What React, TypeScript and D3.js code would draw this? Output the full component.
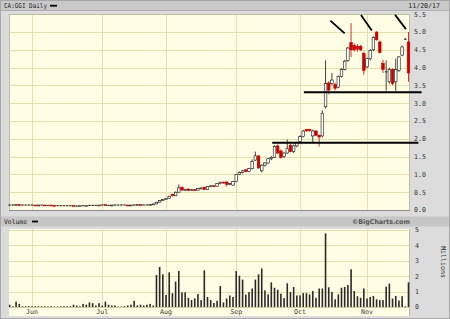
import React from "react";
import * as d3 from "d3";

// ---- data (CA:GGI daily, May 23 – Nov 20 2017, trading-day index) ----
const opens = [
  0.14, 0.14, 0.14, 0.15, 0.14, 0.14, 0.14, 0.14, 0.14, 0.13, 0.14, 0.14, 0.13, 0.14, 0.13, 0.12, 0.12, 0.12, 0.12, 0.12,
  0.13, 0.11, 0.11, 0.12, 0.12, 0.13, 0.13, 0.13, 0.13, 0.14, 0.15, 0.13, 0.13, 0.14, 0.14, 0.14, 0.14, 0.14, 0.13, 0.14,
  0.14, 0.15, 0.14, 0.14, 0.14, 0.15, 0.17, 0.22, 0.27, 0.29, 0.33, 0.44, 0.40, 0.50, 0.64, 0.56, 0.59, 0.55, 0.57, 0.56,
  0.60, 0.64, 0.58, 0.66, 0.68, 0.67, 0.74, 0.78, 0.79, 0.72, 0.70, 0.80, 1.00, 1.05, 1.13, 1.08, 1.16, 1.40, 1.52, 1.10,
  1.26, 1.32, 1.44, 1.48, 1.80, 1.66, 1.50, 1.60, 1.82, 1.64, 1.80, 1.92, 2.06, 2.26, 2.26, 2.08, 2.22, 2.10, 2.08, 2.90,
  3.57, 3.55, 3.52, 3.45, 3.75, 3.95, 4.20, 4.70, 4.62, 4.60, 4.60, 4.40, 4.02, 4.25, 4.50, 5.00, 4.72, 4.12, 3.88, 3.60,
  3.95, 3.60, 3.92, 4.35, 4.80, 4.72,
];
const highs = [
  0.15, 0.15, 0.15, 0.15, 0.15, 0.14, 0.15, 0.15, 0.14, 0.14, 0.14, 0.14, 0.14, 0.14, 0.13, 0.13, 0.13, 0.12, 0.13, 0.12,
  0.13, 0.12, 0.12, 0.13, 0.13, 0.14, 0.14, 0.14, 0.14, 0.15, 0.15, 0.14, 0.14, 0.15, 0.14, 0.15, 0.15, 0.14, 0.14, 0.15,
  0.15, 0.15, 0.15, 0.15, 0.16, 0.18, 0.23, 0.28, 0.31, 0.34, 0.40, 0.46, 0.52, 0.72, 0.66, 0.60, 0.60, 0.58, 0.59, 0.61,
  0.63, 0.65, 0.67, 0.69, 0.70, 0.75, 0.80, 0.80, 0.80, 0.76, 0.82, 1.02, 1.08, 1.12, 1.15, 1.18, 1.42, 1.64, 1.54, 1.28,
  1.34, 1.46, 1.52, 1.82, 1.84, 1.70, 1.62, 1.98, 1.86, 1.84, 1.92, 2.10, 2.25, 2.28, 2.28, 2.26, 2.24, 2.12, 2.80, 4.20,
  3.62, 3.85, 3.58, 3.78, 3.98, 4.22, 4.58, 5.25, 4.68, 4.66, 4.64, 4.45, 4.28, 4.52, 4.88, 5.02, 4.76, 4.22, 4.20, 4.00,
  3.98, 4.25, 4.32, 4.62, 4.82, 5.00,
];
const lows = [
  0.13, 0.13, 0.14, 0.13, 0.13, 0.13, 0.13, 0.13, 0.13, 0.13, 0.13, 0.13, 0.12, 0.12, 0.12, 0.12, 0.11, 0.11, 0.11, 0.11,
  0.10, 0.10, 0.11, 0.11, 0.12, 0.12, 0.12, 0.13, 0.13, 0.13, 0.12, 0.12, 0.13, 0.13, 0.13, 0.13, 0.14, 0.13, 0.13, 0.13,
  0.14, 0.14, 0.13, 0.14, 0.14, 0.15, 0.17, 0.21, 0.25, 0.28, 0.32, 0.38, 0.39, 0.49, 0.54, 0.54, 0.53, 0.54, 0.55, 0.55,
  0.58, 0.57, 0.57, 0.64, 0.65, 0.66, 0.72, 0.75, 0.66, 0.70, 0.68, 0.78, 0.98, 1.02, 1.06, 1.06, 1.14, 1.38, 1.16, 1.06,
  1.22, 1.30, 1.40, 1.46, 1.58, 1.44, 1.46, 1.58, 1.62, 1.60, 1.76, 1.88, 2.04, 2.20, 2.20, 1.90, 2.08, 1.78, 2.04, 2.85,
  3.25, 3.50, 3.36, 3.42, 3.72, 3.92, 4.16, 4.30, 4.45, 4.45, 4.46, 3.80, 3.98, 4.20, 4.46, 4.76, 4.40, 3.85, 3.35, 3.55,
  3.50, 3.35, 3.88, 4.32, 4.78, 3.60,
];
const closes = [
  0.14, 0.14, 0.15, 0.14, 0.14, 0.14, 0.14, 0.14, 0.13, 0.14, 0.14, 0.13, 0.13, 0.13, 0.12, 0.12, 0.12, 0.12, 0.12, 0.12,
  0.11, 0.11, 0.12, 0.12, 0.13, 0.13, 0.13, 0.13, 0.14, 0.14, 0.13, 0.13, 0.14, 0.14, 0.14, 0.14, 0.14, 0.13, 0.14, 0.14,
  0.15, 0.14, 0.14, 0.14, 0.15, 0.17, 0.22, 0.27, 0.29, 0.33, 0.38, 0.40, 0.50, 0.62, 0.56, 0.58, 0.55, 0.57, 0.56, 0.60,
  0.62, 0.58, 0.66, 0.68, 0.67, 0.74, 0.78, 0.77, 0.72, 0.74, 0.80, 1.00, 1.05, 1.10, 1.08, 1.16, 1.36, 1.52, 1.18, 1.26,
  1.32, 1.44, 1.48, 1.78, 1.60, 1.48, 1.60, 1.72, 1.64, 1.80, 1.90, 2.06, 2.22, 2.22, 2.23, 2.22, 2.10, 2.05, 2.72, 3.55,
  3.37, 3.65, 3.42, 3.75, 3.95, 4.18, 4.55, 4.50, 4.50, 4.52, 4.50, 3.92, 4.25, 4.48, 4.85, 4.78, 4.42, 3.95, 3.88, 3.95,
  3.55, 3.95, 4.30, 4.58, 4.80, 3.85,
];
// volume, millions of shares
const volumes = [
  0.15, 0.05, 0.35, 0.2, 0.05, 0.05, 0.05, 0.05, 0.05, 0.05, 0.05, 0.05, 0.03, 0.05, 0.03, 0.03, 0.05, 0.05, 0.05, 0.05,
  0.15, 0.1, 0.05, 0.2, 0.15, 0.3, 0.25, 0.1, 0.25, 0.1, 0.35, 0.15, 0.1, 0.1, 0.03, 0.03, 0.05, 0.1, 0.15, 0.4,
  0.1, 0.15, 0.1, 0.15, 0.2, 0.1, 2.08, 2.6, 2.12, 0.78, 2.25, 0.89, 1.65, 2.34, 0.95, 0.95, 0.6, 0.45, 0.56, 0.84,
  0.45, 2.38, 0.65, 0.45, 0.26, 0.4, 1.36, 0.3, 0.55, 0.75, 0.65, 2.33, 2.03, 1.78, 0.8, 0.97, 1.2, 1.78, 2.12, 2.5,
  1.08, 0.82, 1.6, 1.25, 1.12, 0.86, 0.58, 1.54, 0.97, 1.3, 0.75, 0.75, 0.9, 0.9, 0.82, 1.04, 0.6, 1.2, 1.2, 4.78,
  1.28, 0.97, 0.5, 0.82, 1.25, 1.3, 1.43, 2.45, 1.04, 0.7, 0.6, 1.2, 0.55, 0.65, 0.72, 0.5, 0.45, 0.45, 1.32, 1.52,
  0.55, 0.72, 0.42, 0.7, 0.05, 1.6,
];
const monthLabels = ["Jun", "Jul", "Aug", "Sep", "Oct", "Nov"];
const monthStartIndex = [7, 29, 49, 71, 91, 112];
const priceTicks = [0, 0.5, 1, 1.5, 2, 2.5, 3, 3.5, 4, 4.5, 5, 5.5];
const volumeTicks = [0, 1, 2, 3, 4, 5];
// hand-drawn annotations (data space: index, price)
const supportLevels = [1.89, 3.31];
const supportStart = [82.3, 92.2];
const supportEnd = [128.1, 129.1];
const trendStart: [number, number][] = [[100.5, 5.32], [110.1, 5.48], [120.8, 5.48]];
const trendEnd: [number, number][] = [[105, 4.96], [113.5, 5.04], [124.2, 5.08]];

const W = 450, H = 319;
const PL = 9, PR = 410;
const PT = 14, PB = 210;
const VT = 229, VB = 316, V0 = 307, V5 = 230;
const FONT = "'DejaVu Sans Mono', monospace";
const BG = "#DCDCDC", PLOT = "#FFFEE4", GRID = "#E4E0AE", RED = "#C80000";

export default function App() {
  const n = closes.length;
  const x = d3.scaleLinear().domain([0, n - 1]).range([9.7, 408.5]);
  const yP = d3.scaleLinear().domain([0, 5.5]).range([PB, PT + 0.2]);
  const yV = d3.scaleLinear().domain([0, 5]).range([V0, V5]);
  const fmt = d3.format(".1f");
  const px = (v: number) => Math.round(v) + 0.5;

  return (
    <svg width={W} height={H} style={{ position: "absolute", left: 0, top: 0 }} xmlns="http://www.w3.org/2000/svg">
      <rect x={0} y={0} width={W} height={H} fill={BG} />
      {/* title bar */}
      <rect x={0} y={0} width={W} height={10.5} fill="#C9C9C9" />
      <line x1={0} x2={W} y1={10.5} y2={10.5} stroke="#AFAFAF" />
      <text x={4} y={8} fontFamily={FONT} fontSize={6.6} fill="#222" textLength={43} lengthAdjust="spacingAndGlyphs">CA:GGI Daily</text>
      <rect x={50} y={4.8} width={7} height={1.8} fill="#000" />
      <text x={440} y={8} fontFamily={FONT} fontSize={6.6} fill="#222" textAnchor="end">11/20/17</text>

      {/* price panel */}
      <rect x={PL} y={PT} width={PR - PL} height={PB - PT} fill={PLOT} />
      {priceTicks.slice(1, -1).map((t) => (
        <line key={"pg" + t} x1={PL} x2={PR} y1={px(yP(t))} y2={px(yP(t))} stroke={GRID} strokeWidth={1} />
      ))}
      {monthStartIndex.map((m) => (
        <line key={"pv" + m} x1={px(x(m))} x2={px(x(m))} y1={PT} y2={PB} stroke={GRID} strokeWidth={1} />
      ))}
      <rect x={PL + 0.5} y={PT + 0.5} width={PR - PL - 1} height={PB - PT} fill="none" stroke="#BDBDA8" strokeWidth={1} />
      <line x1={PL} x2={PR} y1={PB + 0.5} y2={PB + 0.5} stroke="#8A8A8A" />

      {/* candles */}
      {closes.map((c, i) => {
        const o = opens[i];
        const cx = x(i);
        const up = c >= o;
        const doji = Math.abs(c - o) < 0.005;
        const top = yP(Math.max(o, c));
        const hgt = Math.max(0.9, Math.abs(yP(o) - yP(c)));
        return (
          <g key={"c" + i}>
            <line x1={cx} x2={cx} y1={yP(highs[i])} y2={yP(lows[i])} stroke={up ? "#111" : RED} strokeWidth={0.8} />
            {doji ? (
              <line x1={cx - 1.3} x2={cx + 1.3} y1={yP(c)} y2={yP(c)} stroke="#111" strokeWidth={0.9} />
            ) : (
              <rect x={cx - 1.3} y={top} width={2.6} height={hgt} fill={up ? "#fff" : RED} stroke={up ? "#111" : RED} strokeWidth={0.6} />
            )}
          </g>
        );
      })}

      {/* annotations */}
      {supportLevels.map((lv, k) => (
        <line key={"s" + k} x1={x(supportStart[k])} x2={x(supportEnd[k])} y1={yP(lv)} y2={yP(lv)} stroke="#000" strokeWidth={2} />
      ))}
      {trendStart.map((s, k) => (
        <line key={"t" + k} x1={x(s[0])} y1={yP(s[1])} x2={x(trendEnd[k][0])} y2={yP(trendEnd[k][1])} stroke="#000" strokeWidth={1.8} />
      ))}

      {/* price axis labels */}
      {priceTicks.map((t) => (
        <text key={"pl" + t} x={414} y={yP(t) + 2.4} fontFamily={FONT} fontSize={6.6} fill="#333">{fmt(t)}</text>
      ))}

      {/* volume header */}
      <rect x={0} y={216.5} width={W} height={10} fill="#C6C6C6" />
      <text x={4} y={224.2} fontFamily={FONT} fontSize={6.6} fill="#222" textLength={23} lengthAdjust="spacingAndGlyphs">Volume</text>
      <rect x={32} y={220.6} width={6} height={1.8} fill="#000" />
      <text x={410} y={224.4} fontFamily="'DejaVu Sans', sans-serif" fontWeight="bold" fontSize={6.6} fill="#555" textAnchor="end" textLength={58} lengthAdjust="spacingAndGlyphs">©BigCharts.com</text>

      {/* volume panel */}
      <rect x={PL} y={VT} width={PR - PL} height={VB - VT} fill={PLOT} />
      {volumeTicks.slice(1).map((t) => (
        <line key={"vg" + t} x1={PL} x2={PR} y1={px(yV(t))} y2={px(yV(t))} stroke={GRID} strokeWidth={1} />
      ))}
      {monthStartIndex.map((m) => (
        <line key={"vv" + m} x1={px(x(m))} x2={px(x(m))} y1={VT} y2={V0 + 1} stroke={GRID} strokeWidth={1} />
      ))}
      <line x1={PR - 0.5} x2={PR - 0.5} y1={VT} y2={VB} stroke="#BDBDA8" />
      <line x1={PL} x2={PR} y1={V0 + 0.5} y2={V0 + 0.5} stroke="#CFCBA0" />
      {volumes.map((v, i) => (
        <rect key={"v" + i} x={x(i) - 0.8} y={yV(v)} width={1.6} height={Math.max(0, V0 - yV(v))} fill="#2A2A2A" />
      ))}
      {monthLabels.map((m, k) => (
        <text key={"ml" + m} x={x(monthStartIndex[k])} y={314.2} fontFamily={FONT} fontSize={6.6} fill="#333" textAnchor="middle">{m}</text>
      ))}
      {volumeTicks.map((t) => (
        <text key={"vl" + t} x={415} y={yV(t) + 2.4} fontFamily={FONT} fontSize={6.6} fill="#333">{String(t)}</text>
      ))}
      <text x={0} y={0} transform="translate(441,262) rotate(90)" fontFamily={FONT} fontSize={6.6} fill="#333" textAnchor="middle">Millions</text>
      <rect x={0.5} y={0.5} width={W - 1} height={H - 1} fill="none" stroke="#A8A8A8" />
    </svg>
  );
}
